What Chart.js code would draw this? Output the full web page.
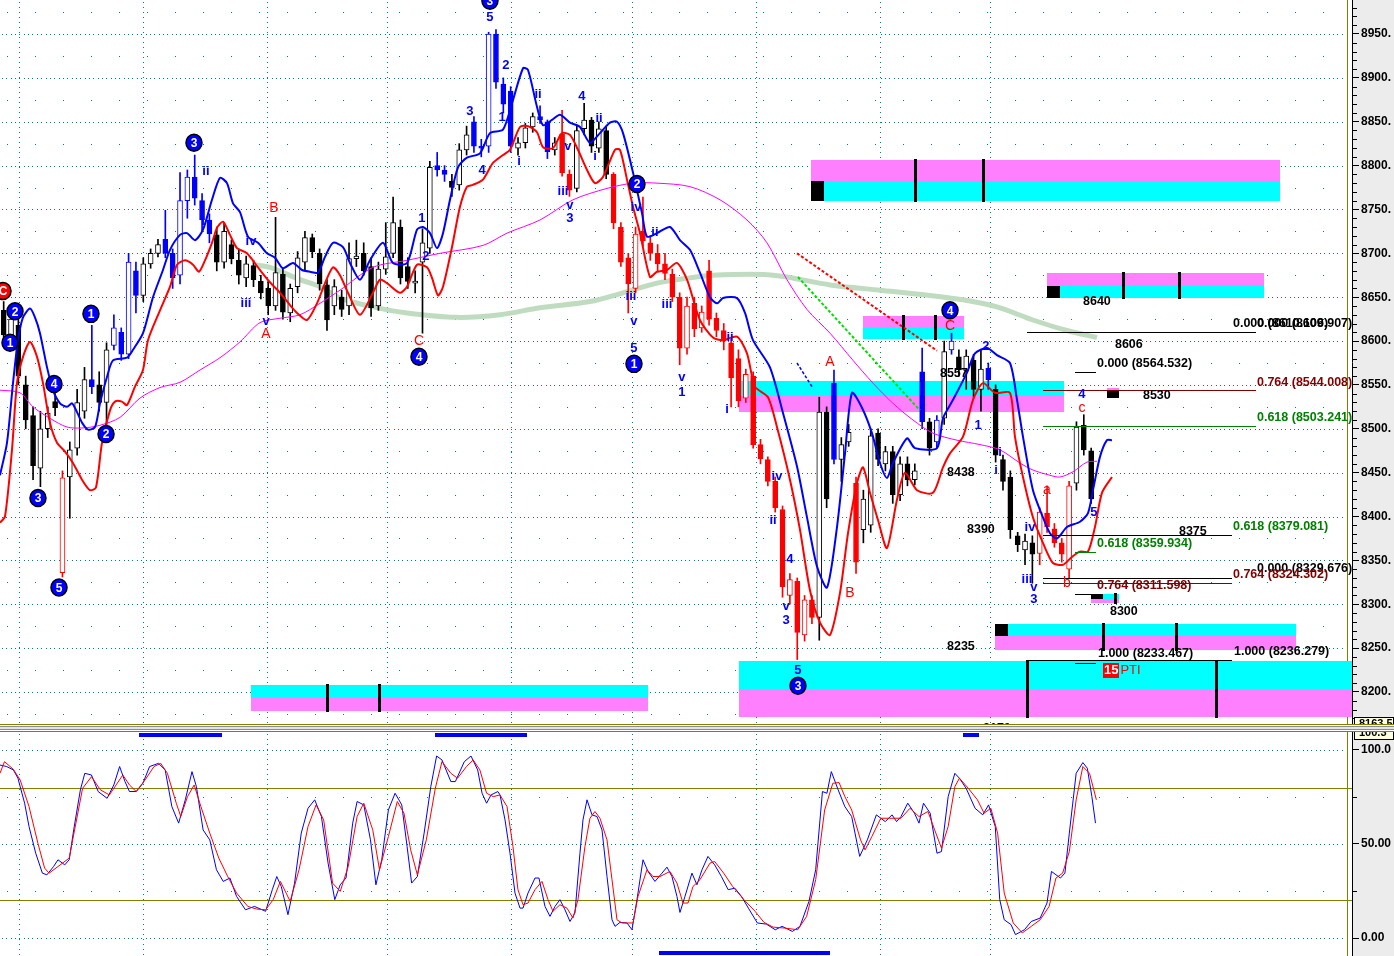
<!DOCTYPE html>
<html>
<head>
<meta charset="utf-8">
<title>Wave count chart</title>
<script src="https://cdn.jsdelivr.net/npm/chart.js@4.4.1/dist/chart.umd.min.js"></script>
<style>
  html, body { margin: 0; padding: 0; background: #fff; }
  #wrap { position: relative; width: 1394px; height: 956px; overflow: hidden; background: #fff; }
  #pricePane { position: absolute; left: 0; top: 0; }
  #split {
    position: absolute; left: 0; top: 724px; width: 1394px; height: 8px; box-sizing: border-box;
    border-top: 1px solid #808000; border-bottom: 1px solid #808000;
    background: linear-gradient(#ffffff 0, #ffffff 1px, #8c8c8c 1px, #8c8c8c 2px, #e4e4e4 2px, #e4e4e4 4px, #8c8c8c 4px, #8c8c8c 5px, #ffffff 5px);
  }
  #stochPane { position: absolute; left: 0; top: 732px; }
</style>
</head>
<body>
<div id="wrap">
  <canvas id="pricePane" width="1394" height="724"></canvas>
  <div id="split"></div>
  <canvas id="stochPane" width="1394" height="224"></canvas>
</div>
<script>
// bar index range shown on both panes (empty space on the right is future bars)
const barMin = -0.5, barMax = 183.5;

// candles, one bar at a time
const openP = [
  8635, 8607, 8618, 8550, 8515, 8455, 8500, 8531, 8336, 8445,
  8478, 8520, 8556, 8550, 8530, 8595, 8610, 8585, 8680, 8652,
  8688, 8700, 8716, 8700, 8675, 8760, 8787, 8760, 8738, 8721,
  8690, 8710, 8692, 8672, 8686, 8668, 8660, 8640, 8676, 8632,
  8662, 8690, 8718, 8700, 8664, 8640, 8650, 8640, 8694, 8700,
  8685, 8640, 8682, 8700, 8730, 8685, 8666, 8690, 8706, 8800,
  8795, 8782, 8778, 8818, 8850, 8822, 8822, 8950, 8893, 8885,
  8820, 8826, 8844, 8856, 8850, 8818, 8836, 8790, 8774, 8842,
  8852, 8820, 8840, 8790, 8730, 8695, 8660, 8725, 8712, 8700,
  8688, 8676, 8650, 8592, 8643, 8615, 8680, 8626, 8612, 8598,
  8580, 8535, 8560, 8482, 8465, 8440, 8408, 8310, 8326, 8265,
  8305, 8285, 8519, 8552, 8465, 8485, 8438, 8385, 8390, 8495,
  8460, 8474, 8425, 8460, 8442, 8565, 8508, 8485, 8512, 8590,
  8582, 8566, 8578, 8545, 8569, 8545, 8465, 8445, 8378, 8362,
  8370, 8358, 8404, 8386, 8370, 8340, 8438, 8504, 8475
];
const highP = [
  8645, 8640, 8630, 8560, 8525, 8520, 8525, 8540, 8452, 8485,
  8545, 8570, 8618, 8565, 8598, 8630, 8615, 8700, 8690, 8695,
  8705, 8716, 8749, 8705, 8792, 8795, 8812, 8768, 8745, 8730,
  8735, 8715, 8705, 8697, 8692, 8675, 8668, 8741, 8682, 8665,
  8702, 8725, 8722, 8705, 8670, 8670, 8658, 8712, 8715, 8712,
  8695, 8690, 8735, 8764, 8738, 8695, 8680, 8728, 8805, 8815,
  8800, 8790, 8825, 8845, 8856, 8830, 8952, 8955, 8900, 8890,
  8832, 8848, 8860, 8868, 8852, 8832, 8863, 8795, 8846, 8871,
  8855, 8850, 8845, 8792, 8735, 8700, 8730, 8764, 8720, 8710,
  8700, 8682, 8655, 8650, 8650, 8640, 8692, 8632, 8620, 8602,
  8590, 8568, 8565, 8488, 8468, 8445, 8412, 8335, 8330, 8310,
  8310, 8536, 8525, 8567, 8490, 8505, 8445, 8430, 8500, 8500,
  8480, 8480, 8468, 8468, 8460, 8592, 8512, 8515, 8600, 8609,
  8590, 8590, 8585, 8590, 8575, 8550, 8470, 8452, 8382, 8380,
  8378, 8410, 8435, 8392, 8375, 8440, 8508, 8516, 8478
];
const lowP = [
  8600, 8600, 8550, 8500, 8442, 8434, 8490, 8515, 8331, 8398,
  8470, 8512, 8540, 8520, 8500, 8590, 8578, 8580, 8632, 8645,
  8683, 8696, 8695, 8660, 8665, 8740, 8755, 8725, 8712, 8680,
  8683, 8688, 8665, 8662, 8662, 8648, 8630, 8635, 8625, 8622,
  8655, 8680, 8695, 8658, 8612, 8630, 8628, 8630, 8685, 8675,
  8628, 8635, 8676, 8695, 8665, 8660, 8655, 8609, 8700, 8788,
  8782, 8765, 8772, 8812, 8815, 8810, 8815, 8888, 8860, 8815,
  8812, 8820, 8838, 8848, 8808, 8812, 8788, 8765, 8770, 8835,
  8815, 8815, 8785, 8728, 8685, 8632, 8655, 8708, 8692, 8680,
  8670, 8645, 8573, 8585, 8605, 8610, 8618, 8605, 8590, 8525,
  8525, 8530, 8478, 8460, 8435, 8405, 8308, 8300, 8237, 8258,
  8278, 8259, 8410, 8460, 8440, 8480, 8335, 8370, 8382, 8458,
  8452, 8415, 8418, 8435, 8436, 8500, 8470, 8478, 8505, 8585,
  8560, 8545, 8535, 8520, 8545, 8462, 8430, 8375, 8360, 8345,
  8324, 8345, 8382, 8365, 8348, 8330, 8430, 8470, 8415
];
const closeP = [
  8607, 8625, 8560, 8510, 8458, 8500, 8518, 8524, 8444, 8476,
  8530, 8556, 8548, 8530, 8590, 8615, 8585, 8690, 8652, 8688,
  8700, 8710, 8700, 8672, 8760, 8787, 8763, 8738, 8722, 8690,
  8725, 8694, 8675, 8688, 8670, 8655, 8640, 8678, 8633, 8660,
  8695, 8718, 8702, 8665, 8624, 8662, 8636, 8694, 8697, 8680,
  8638, 8682, 8696, 8735, 8672, 8668, 8668, 8712, 8798, 8795,
  8790, 8775, 8818, 8835, 8822, 8820, 8950, 8895, 8870, 8822,
  8826, 8843, 8856, 8852, 8816, 8826, 8792, 8772, 8840, 8852,
  8822, 8842, 8790, 8735, 8690, 8665, 8722, 8714, 8700, 8688,
  8677, 8650, 8592, 8640, 8614, 8633, 8625, 8612, 8600, 8558,
  8532, 8562, 8482, 8466, 8440, 8410, 8320, 8328, 8268, 8305,
  8285, 8519, 8420, 8465, 8482, 8496, 8348, 8420, 8492, 8465,
  8474, 8425, 8460, 8442, 8452, 8508, 8478, 8510, 8588, 8600,
  8567, 8583, 8545, 8568, 8556, 8470, 8440, 8385, 8368, 8372,
  8357, 8405, 8388, 8370, 8357, 8435, 8502, 8476, 8420
];
// wave colouring of each candle: k plain, b blue (impulse up), r red (impulse down)
const candleWave = (
  "kkkkkkkkrk" + "kkbkkbbbbk" + "kkbbbbbbbk" + "kkkkkkkkkk" + "kkkkkkkkkk" +
  "kkkkkkkkkb" + "bkkkbbbbbb" + "kkkbbkrrkk" + "kkkrrrrrrr" + "rrrrrrrrrr" +
  "rrrrrrrrrr" + "rkkbkkrkkk" + "kkkkkbkbkb" + "kkkkbkkkkk" + "krrrrrkkk"
).split("");

// overlay lines as [bar, price]
const upperBand = [[-0.5,8447],[0.45,8484],[1.27,8552],[1.95,8601],[2.63,8627],[3.58,8637],[4.26,8627],[4.94,8609],[5.9,8570],[6.71,8544],[7.67,8529],[8.62,8525],[9.3,8529],[9.98,8519],[10.66,8507],[11.48,8499],[12.43,8502],[13.11,8529],[14.06,8559],[14.88,8578],[16.78,8581],[17.6,8590],[18.96,8609],[20.32,8650],[21.68,8681],[22.64,8704],[24.0,8721],[24.95,8723],[26.04,8715],[27.13,8727],[28.35,8761],[29.44,8786],[30.39,8780],[31.21,8757],[32.16,8747],[33.25,8719],[34.61,8712],[35.84,8700],[36.93,8695],[38.01,8683],[39.37,8689],[40.6,8681],[41.69,8679],[42.78,8678],[43.73,8696],[44.82,8712],[46.18,8707],[47.13,8689],[48.49,8670],[49.85,8692],[51.62,8712],[52.98,8689],[54.89,8689],[56.25,8727],[57.07,8730],[58.02,8723],[58.97,8706],[59.79,8723],[60.74,8761],[61.83,8798],[63.05,8809],[64.82,8814],[66.18,8837],[67.95,8841],[69.18,8871],[70.68,8911],[71.36,8909],[72.58,8867],[73.4,8846],[74.62,8852],[75.71,8858],[77.07,8849],[78.43,8844],[79.79,8826],[81.15,8837],[82.52,8849],[83.47,8850],[84.29,8837],[85.65,8792],[86.87,8746],[87.55,8719],[88.91,8723],[90.68,8730],[92.04,8715],[93.4,8704],[94.76,8678],[96.12,8650],[97.08,8643],[97.9,8649],[99.8,8649],[100.89,8632],[101.98,8601],[104.29,8570],[106.06,8518],[107.97,8457],[109.33,8399],[110.69,8343],[112.05,8319],[113.41,8388],[114.5,8472],[115.45,8541],[116.81,8524],[118.17,8495],[119.26,8461],[120.21,8444],[121.03,8461],[122.94,8489],[124.02,8478],[127.02,8478],[127.83,8512],[129.2,8533],[131.1,8564],[132.19,8586],[133.82,8592],[135.18,8584],[136.95,8575],[137.91,8533],[138.72,8491],[140.08,8430],[141.44,8399],[142.4,8381],[143.35,8375],[144.71,8388],[146.48,8394],[147.57,8404],[148.25,8430],[149.2,8468],[150.15,8487],[150.83,8487]];
const lowerBand = [[-0.5,8393],[0.18,8400],[1.13,8476],[1.81,8552],[2.63,8582],[3.58,8599],[4.54,8582],[5.35,8552],[6.3,8507],[7.26,8484],[8.35,8474],[9.43,8461],[10.66,8442],[11.75,8430],[12.56,8433],[13.38,8484],[14.47,8521],[15.15,8531],[16.1,8531],[16.78,8527],[17.87,8548],[18.96,8567],[19.64,8601],[21.27,8635],[22.64,8662],[23.59,8687],[24.68,8692],[25.77,8687],[26.58,8679],[27.4,8692],[28.35,8712],[29.03,8729],[29.85,8736],[30.8,8721],[31.75,8706],[33.11,8700],[34.88,8681],[36.24,8667],[37.61,8655],[38.97,8641],[39.92,8632],[41.28,8624],[42.64,8643],[43.73,8666],[44.82,8684],[45.77,8675],[46.86,8655],[48.49,8630],[50.26,8655],[51.21,8670],[52.17,8666],[53.94,8655],[54.89,8662],[56.25,8687],[57.61,8684],[58.29,8672],[59.11,8652],[59.79,8662],[61.01,8707],[62.1,8753],[63.05,8776],[63.87,8778],[65.23,8784],[66.59,8803],[67.95,8812],[68.91,8818],[70.27,8844],[71.36,8845],[72.58,8838],[73.4,8821],[74.76,8820],[75.98,8837],[77.07,8835],[78.16,8818],[79.39,8795],[80.47,8780],[81.56,8787],[83.2,8818],[83.88,8818],[84.83,8784],[85.65,8753],[86.6,8723],[87.96,8673],[88.91,8679],[90.27,8681],[91.63,8689],[93.0,8670],[94.76,8624],[96.53,8604],[97.9,8601],[99.8,8605],[101.16,8586],[102.25,8548],[104.02,8536],[105.24,8502],[107.01,8442],[108.37,8385],[109.73,8316],[111.1,8279],[112.46,8265],[113.82,8313],[114.91,8381],[116.13,8438],[116.95,8456],[117.9,8427],[118.99,8396],[120.21,8364],[121.57,8419],[122.66,8450],[124.3,8430],[126.47,8427],[127.83,8456],[128.79,8472],[130.56,8491],[131.92,8533],[133.28,8552],[134.91,8541],[136.95,8541],[137.63,8491],[138.72,8445],[140.08,8399],[141.44,8370],[142.8,8347],[144.17,8345],[145.39,8354],[146.48,8360],[147.57,8360],[148.52,8388],[149.47,8427],[150.83,8445]];
const fastAvg = [[-0.5,8544],[2.22,8541],[3.99,8525],[6.3,8512],[8.62,8502],[10.8,8501],[13.11,8504],[15.83,8513],[18.55,8535],[21.27,8547],[24.0,8553],[26.72,8567],[29.44,8581],[32.16,8599],[34.88,8621],[37.61,8626],[40.33,8630],[43.05,8643],[45.77,8658],[50.26,8684],[54.89,8692],[59.38,8700],[65.23,8709],[68.5,8723],[72.99,8738],[77.48,8761],[82.11,8774],[85.65,8780],[88.91,8780],[93.4,8776],[97.49,8761],[101.16,8738],[103.88,8712],[106.6,8670],[109.33,8636],[112.46,8609],[115.59,8578],[118.31,8552],[121.03,8529],[123.75,8510],[126.47,8495],[129.74,8487],[132.87,8482],[135.59,8476],[138.31,8461],[140.08,8453],[142.4,8447],[143.76,8445],[145.53,8451],[147.43,8462],[148.79,8463]];
const slowAvg = [[34.2,8687],[36.24,8684],[40.33,8670],[43.05,8662],[45.77,8649],[50.26,8639],[54.89,8632],[61.69,8627],[67.55,8630],[72.99,8638],[79.79,8645],[84.29,8655],[88.91,8666],[93.4,8672],[96.53,8675],[103.34,8676],[106.6,8673],[112.46,8664],[119.26,8658],[126.06,8652],[130.56,8647],[135.18,8639],[140.08,8624],[144.71,8612],[148.79,8604]];
const redCrossLine = [[107.97, 8700], [127.02, 8589]];
const greenCrossLine = [[108.1, 8673], [124.7, 8521]];
const blueCrossLine = [[107.97, 8575], [110.0, 8548]];

// oscillator pane, [bar, value]
const stochK = [[-0.5,92.0],[0.41,91.2],[1.32,89.4],[1.94,85],[2.85,71.7],[3.45,59.3],[4.36,45.1],[5.27,34.5],[5.88,33.6],[6.79,38],[7.39,41.6],[8.31,38.9],[8.92,41.6],[9.53,57.5],[10.44,78.8],[11.04,87.6],[11.95,86.7],[12.86,77.9],[14.08,74.3],[14.99,81.4],[15.78,91.2],[16.51,83.2],[17.12,77.9],[18.04,77.9],[18.95,82.3],[19.86,91.2],[21.07,92.9],[21.98,89.4],[22.89,69.9],[23.81,61.1],[24.72,73.5],[25.63,88.5],[26.23,80.5],[27.14,57.5],[28.05,52.2],[28.96,36.3],[29.88,30.1],[30.79,31.9],[31.7,22.1],[32.91,15],[34.13,16.8],[35.65,14.2],[36.56,25.7],[37.17,32.7],[37.78,27.4],[38.69,12.4],[39.59,29.2],[40.5,55.8],[41.42,69],[42.33,73.5],[43.24,64.6],[44.15,39.8],[45.06,20.4],[45.8,28.3],[46.59,31.9],[47.5,61.1],[48.1,72.6],[49.01,70.8],[49.92,52.2],[50.66,28.3],[51.45,41.6],[52.36,68.1],[53.27,77],[54.18,70.8],[54.9,48.7],[55.52,29.2],[56.3,32.7],[57.22,55.8],[58.13,80.5],[58.92,96.8],[59.65,94.7],[60.86,83.2],[61.47,83.2],[62.69,93.8],[63.6,96.8],[64.51,89.4],[65.11,77],[65.72,71.7],[66.33,76.1],[67.25,77.9],[67.55,76.1],[68.23,62.8],[68.91,45.1],[69.59,23.9],[70.27,15.9],[70.68,15.9],[71.36,23.9],[72.31,31.9],[72.85,31.9],[73.67,16.8],[74.35,11.5],[75.03,16.8],[75.71,20.4],[76.39,15],[77.07,8.8],[77.75,13.3],[78.43,45.1],[78.84,62.8],[79.39,73.5],[80.07,65.5],[80.75,64.6],[81.43,57.5],[82.11,32.7],[82.79,9.7],[83.2,6.2],[83.88,8.3],[84.83,8],[85.51,4.4],[86.19,20.4],[87.01,41.6],[87.69,35.4],[88.64,30.1],[89.59,34.5],[90.27,37.7],[90.95,32.7],[91.63,22.1],[92.04,13.6],[92.72,22.1],[93.67,34.5],[94.35,28.3],[95.04,36.3],[95.85,43.4],[96.76,38.9],[97.68,32.7],[98.6,25.7],[99.51,26.5],[100.42,22.1],[101.35,15.9],[102.57,8],[103.79,7.4],[105.01,4.4],[105.94,6.2],[107.34,3.5],[108.37,6.2],[109.6,19.5],[110.51,36.3],[111.43,77.9],[112.04,77],[112.64,88.5],[113.57,78.8],[114.48,69.9],[115.41,64.6],[116.5,43.4],[117.54,52.2],[118.77,65.5],[119.98,61.9],[120.9,65.5],[121.52,61.9],[122.12,64.6],[123.04,71.7],[123.95,66.4],[124.57,61.1],[125.18,71.7],[126.09,66.4],[127.02,45.1],[127.63,46],[128.54,75.2],[129.45,87.6],[130.07,85],[130.99,79.6],[132.2,69],[133.25,65.5],[134.04,70.8],[134.95,59.3],[135.56,20.4],[136.17,9.7],[137.1,7.1],[137.7,1.8],[138.92,4.4],[139.85,8.8],[141.06,10.6],[141.99,18.6],[142.6,35.4],[143.82,31.9],[144.43,34.5],[145.03,55.8],[145.96,87.6],[146.87,93.3],[147.48,90.3],[148.1,75.2],[148.59,61.1]];
const stochD = [[-0.5,87.6],[0.11,93.8],[1.32,89.7],[2.24,84.1],[3.45,69.9],[4.66,50.4],[5.57,37.2],[6.18,34.5],[7.39,38],[8.92,42.5],[9.83,61.1],[10.74,79.6],[11.95,85.8],[13.16,78.8],[14.39,76.1],[15.3,81.4],[16.21,86.7],[17.12,81.4],[18.04,77.9],[19.25,84.1],[20.46,91.2],[21.37,92.9],[22.28,87.6],[23.49,71.7],[24.1,64.6],[25.02,75.2],[25.93,81.4],[26.84,69.9],[28.05,55.8],[29.28,42.5],[30.49,32.7],[31.7,23.9],[33.22,16.8],[34.43,15.4],[35.65,15],[36.68,20.4],[37.66,30.1],[38.99,19.5],[40.2,36.3],[41.42,59.3],[42.52,70.8],[43.55,62.8],[44.76,29.2],[45.8,24.8],[46.89,38],[48.1,64.6],[49.01,71.7],[50.23,57.5],[51.15,36.3],[52.36,54],[53.57,72.6],[54.48,66.4],[55.39,46.9],[56.3,33.6],[57.52,52.2],[58.74,79.6],[59.65,93.8],[60.86,87.6],[61.77,85],[62.99,91.2],[63.9,94.7],[64.81,89.4],[65.72,77],[66.63,75.2],[67.55,76.1],[68.5,69.9],[69.31,48.7],[69.99,25.7],[70.68,17.7],[71.36,18.6],[72.31,25.7],[73.26,30.1],[74.08,20.4],[74.76,14.2],[75.71,17.7],[76.66,15.9],[77.48,10.6],[78.16,20.4],[79.11,48.7],[79.79,63.7],[80.47,67.3],[81.15,63.7],[82.11,52.2],[82.79,31],[83.47,9.7],[84.15,8],[84.96,8],[85.65,8],[86.33,22.1],[87.55,36.3],[88.37,32.7],[89.32,32.7],[90.68,35.4],[91.63,29.2],[92.45,18.6],[93.13,18.6],[93.81,27.4],[94.76,31],[96.12,39.8],[96.76,40.7],[97.99,34.5],[99.21,27.4],[100.74,20.4],[102.26,14.2],[103.48,8.3],[104.71,5.8],[106.23,5.3],[108.07,4.4],[109.28,11.5],[110.51,31],[111.73,68.1],[112.84,82.3],[113.69,82.7],[114.48,75.2],[115.41,68.1],[116.62,52.2],[117.23,46.9],[118.16,54],[119.37,63.7],[120.59,63.7],[122.12,63.7],[123.34,69],[124.57,64.6],[125.79,67.3],[126.7,57.5],[127.63,47.8],[128.54,59.3],[129.45,80.5],[130.07,85],[131.29,79.6],[132.52,73.5],[133.43,66.4],[134.35,69],[135.27,55.8],[136.17,23.9],[137.4,8],[138.62,2.7],[139.85,6.2],[141.06,9.7],[142.28,16.8],[143.21,31.9],[144.12,34.5],[145.03,46],[145.96,73.5],[146.87,91.2],[147.78,87.6],[148.71,73.5]];

const priceTicks = [8200, 8250, 8300, 8350, 8400, 8450, 8500, 8550, 8600, 8650, 8700, 8750, 8800, 8850, 8900, 8950];
const stochTicks = [0, 50, 100];
const stochTickText = ["0.00", "50.00", "100.0"];
const sessionBreaks = [2.11, 18.95, 35.77, 52.23, 69.07, 85.47, 102.4, 119.2, 134.3];
const signalTop = [[18.4, 29.7], [58.7, 71.2], [130.6, 132.7]];
const signalBottom = [[89.2, 112.5]];

// target zones: [from bar, to bar, top, middle, bottom, upper half colour, marker bars, black block end]
const zones = [
  [109.87, 173.7, 8806.4, 8782.5, 8759.7, "m", [124.02, 133.28], 111.64],
  [141.99, 171.52, 8677.6, 8662.8, 8649.1, "m", [152.33, 159.95], 143.75],
  [116.95, 130.69, 8628.6, 8615.0, 8602.4, "m", [122.39, 126.74], null],
  [100.07, 144.3, 8554.5, 8537.4, 8519.2, "c", [], null],
  [134.9, 175.9, 8277.6, 8263.9, 8247.9, "c", [149.6, 159.5], 136.7],
  [100.07, 183.5, 8235.4, 8202.4, 8171.6, "c", [139.26, 164.98], null],
  [33.66, 87.69, 8208.1, 8193.2, 8178.4, "c", [44.0, 51.08], null],
  [147.97, 151.78, 8311.8, 8306.1, 8301.5, "c", [151.24], 149.6],
  [150.15, 151.78, 8546.5, 8543.1, 8535.1, "m", [], 151.78]
];

// retracement lines: [from bar, to bar, price, colour]
const fibLines = [
  [139.26, 170.43, 8610.1, "#000000"],
  [141.44, 170.43, 8544.0, "#800000"],
  [141.44, 170.43, 8503.2, "#008000"],
  [145.8, 148.65, 8564.5, "#000000"],
  [141.44, 167.2, 8379.1, "#000000"],
  [145.8, 148.65, 8359.9, "#008000"],
  [141.44, 167.2, 8329.7, "#000000"],
  [141.44, 167.2, 8324.3, "#800000"],
  [145.8, 148.65, 8311.6, "#000000"],
  [139.26, 167.2, 8236.3, "#000000"],
  [145.8, 148.65, 8233.5, "#000000"]
];

// text notes: [bar at left edge, price, text, kind]
const priceNotes = [
  [167.3, 8619.5, "0.000 (8610.106)", "k"],
  [170.57, 8619.5, "0.000 (8609.907)", "k"],
  [148.79, 8573.9, "0.000 (8564.532)", "k"],
  [151.24, 8595.6, "8606", "k"],
  [146.89, 8644.6, "8640", "k"],
  [170.57, 8552.2, "0.764 (8544.008)", "d"],
  [155.05, 8537.4, "8530", "k"],
  [170.57, 8512.3, "0.618 (8503.241)", "g"],
  [128.38, 8449.7, "8438", "k"],
  [131.1, 8384.7, "8390", "k"],
  [159.95, 8382.4, "8375", "k"],
  [167.3, 8388.1, "0.618 (8379.081)", "g"],
  [148.79, 8368.8, "0.618 (8359.934)", "g"],
  [170.57, 8340.3, "0.000 (8329.676)", "k"],
  [167.3, 8333.4, "0.764 (8324.302)", "d"],
  [148.79, 8320.9, "0.764 (8311.598)", "d"],
  [150.56, 8291.3, "8300", "k"],
  [128.38, 8251.4, "8235", "k"],
  [148.93, 8243.4, "1.000 (8233.467)", "k"],
  [167.44, 8245.7, "1.000 (8236.279)", "k"],
  [133.28, 8157.9, "8170", "k"],
  [127.42, 8562.5, "8557", "k"],
  [149.61, 8225.2, "15|PTI", "pti"]
];

// wave count marks: [bar, price, text, kind]
const waveMarks = [
  [-0.09, 8657, "C", "rc"], [0.86, 8598, "1", "bc"], [1.54, 8634, "2", "bc"], [4.67, 8421, "3", "bc"],
  [6.85, 8551, "4", "bc"], [7.53, 8319, "5", "bc"], [11.88, 8631, "1", "bc"], [13.93, 8494, "2", "bc"],
  [25.9, 8826, "3", "bc"], [56.52, 8582, "4", "bc"], [66.18, 8988, "3", "bc"], [86.19, 8779, "2", "bc"],
  [85.78, 8574, "1", "bc"], [128.79, 8635, "4", "bc"], [108.1, 8207, "3", "bc"],
  [27.53, 8793, "ii", "w"], [27.13, 8736, "i", "w"], [33.66, 8714, "iv", "w"], [32.98, 8643, "iii", "w"],
  [35.7, 8622, "v", "w"], [56.93, 8740, "1", "w"], [57.47, 8697, "2", "w"], [63.46, 8862, "3", "w"],
  [65.1, 8795, "4", "w"], [66.18, 8969, "5", "w"], [68.36, 8914, "2", "w"], [67.82, 8855, "1", "w"],
  [72.72, 8881, "ii", "w"], [70.13, 8805, "i", "w"], [78.7, 8879, "4", "w"], [81.02, 8854, "ii", "w"],
  [80.47, 8811, "i", "w"], [76.8, 8822, "v", "w"], [76.12, 8770, "iii", "w"], [77.07, 8755, "v", "w"],
  [77.07, 8740, "3", "w"], [85.78, 8622, "v", "w"], [85.78, 8592, "5", "w"], [86.05, 8752, "iv", "w"],
  [88.64, 8724, "ii", "w"], [85.37, 8651, "iii", "w"], [90.27, 8642, "iii", "w"], [92.31, 8558, "v", "w"],
  [92.31, 8542, "1", "w"], [98.85, 8604, "ii", "w"], [98.44, 8522, "i", "w"], [105.24, 8446, "iv", "w"],
  [104.7, 8396, "ii", "w"], [107.01, 8351, "4", "w"], [106.47, 8298, "v", "w"], [106.47, 8282, "3", "w"],
  [108.1, 8225, "5", "w"], [132.6, 8504, "1", "w"], [133.68, 8594, "2", "w"], [135.59, 8473, "i", "w"],
  [135.05, 8453, "i", "w"], [139.67, 8388, "iv", "w"], [139.26, 8328, "iii", "w"], [140.22, 8319, "v", "w"],
  [140.22, 8305, "3", "w"], [146.75, 8539, "4", "w"], [148.38, 8405, "5", "w"],
  [36.79, 8751, "B", "r"], [35.7, 8608, "A", "r"], [56.52, 8600, "C", "r"], [112.46, 8576, "A", "r"],
  [115.18, 8313, "B", "r"], [128.79, 8617, "C", "r"], [141.99, 8430, "a", "r"], [144.71, 8324, "b", "r"],
  [146.75, 8524, "c", "r"]
];

const pairs = rows => rows.map(r => ({ x: r[0], y: r[1] }));
const waveInk = { k: "#000000", b: "#0000ff", r: "#ff0000" };
const sans = "'Liberation Sans', Arial, sans-serif";

Chart.defaults.font.family = sans;
Chart.defaults.animation = false;

const paneBackdrop = {
  id: "paneBackdrop",
  beforeDraw(chart) {
    const { ctx, chartArea: a, width, height } = chart;
    ctx.save();
    ctx.fillStyle = "#ececec";
    ctx.fillRect(a.right, 0, width - a.right, height);
    ctx.fillStyle = "#ffffff";
    ctx.fillRect(a.left, a.top, a.right - a.left, a.bottom - a.top);
    ctx.restore();
  }
};

const dotGrid = {
  id: "dotGrid",
  beforeDatasetsDraw(chart, args, opts) {
    const { ctx, chartArea: a, scales: { x, y } } = chart;
    ctx.save();
    ctx.fillStyle = "#008080";
    opts.rows.forEach(v => {
      const py = Math.round(y.getPixelForValue(v));
      for (let px = a.left + 2; px < a.right - 6; px += 4.35) ctx.fillRect(Math.round(px), py, 1, 1);
    });
    opts.sparse.forEach(v => {
      const py = Math.round(y.getPixelForValue(v));
      for (let px = a.left + 7; px < a.right - 6; px += 28) ctx.fillRect(Math.round(px), py, 1, 1);
    });
    sessionBreaks.forEach(b => {
      const px = Math.round(x.getPixelForValue(b));
      for (let py = a.top + 2; py < a.bottom; py += 5) ctx.fillRect(px, Math.round(py), 1, 1);
    });
    ctx.fillStyle = "#808000";
    opts.olive.forEach(v => {
      ctx.fillRect(a.left, Math.round(y.getPixelForValue(v)), a.right - a.left, 1);
    });
    ctx.fillRect(a.right - 5, a.top, 1, a.bottom - a.top);
    ctx.restore();
  }
};

const zoneLayer = {
  id: "zoneLayer",
  beforeDatasetsDraw(chart) {
    const { ctx, scales: { x, y } } = chart;
    ctx.save();
    zones.forEach(([x1, x2, top, mid, bottom, upper, bars, block]) => {
      const l = Math.round(x.getPixelForValue(x1)), r = Math.round(x.getPixelForValue(x2));
      const t = Math.round(y.getPixelForValue(top)), m = Math.round(y.getPixelForValue(mid));
      const b = Math.round(y.getPixelForValue(bottom));
      ctx.fillStyle = upper === "m" ? "#ff80ff" : "#00ffff";
      ctx.fillRect(l, t, r - l, m - t);
      ctx.fillStyle = upper === "m" ? "#00ffff" : "#ff80ff";
      ctx.fillRect(l, m, r - l, b - m);
      ctx.fillStyle = "#000000";
      if (block !== null) {
        const br = Math.round(x.getPixelForValue(block));
        if (upper === "m") ctx.fillRect(l, m, br - l, b - m);
        else ctx.fillRect(l, t, br - l, m - t);
      }
      bars.forEach(bx => {
        const px = Math.round(x.getPixelForValue(bx));
        ctx.fillRect(px - 1, t - 1, 3, b - t + 2);
      });
    });
    ctx.restore();
  }
};

const noteLayer = {
  id: "noteLayer",
  afterDatasetsDraw(chart) {
    const { ctx, scales: { x, y } } = chart;
    ctx.save();
    fibLines.forEach(([x1, x2, v, col]) => {
      const l = Math.round(x.getPixelForValue(x1)), r = Math.round(x.getPixelForValue(x2));
      ctx.fillStyle = col;
      ctx.fillRect(l, Math.round(y.getPixelForValue(v)), r - l, 1);
    });

    ctx.textBaseline = "middle";
    const ink = { k: "#000000", g: "#008000", d: "#800000" };
    priceNotes.forEach(([bx, v, text, kind]) => {
      const px = x.getPixelForValue(bx), py = y.getPixelForValue(v);
      ctx.textAlign = "left";
      if (kind === "pti") {
        const [num, tag] = text.split("|");
        ctx.font = "bold 13px " + sans;
        const w = ctx.measureText(num).width;
        ctx.fillStyle = "#ff0000";
        ctx.fillRect(Math.round(px), Math.round(py) - 7, Math.round(w) + 2, 15);
        ctx.fillStyle = "#ffffff";
        ctx.fillText(num, px + 1, py + 1);
        ctx.fillStyle = "#ff0000";
        ctx.font = "13px " + sans;
        ctx.fillText(tag, px + w + 3, py + 1);
        return;
      }
      ctx.font = "bold 12.5px " + sans;
      ctx.fillStyle = ink[kind];
      ctx.fillText(text, px, py);
    });

    waveMarks.forEach(([bx, v, text, kind]) => {
      const px = x.getPixelForValue(bx), py = y.getPixelForValue(v);
      ctx.textAlign = "center";
      if (kind === "bc" || kind === "rc") {
        ctx.beginPath();
        ctx.ellipse(px, py, 8, 8.5, 0, 0, Math.PI * 2);
        ctx.fillStyle = kind === "bc" ? "#0000ff" : "#ff0000";
        ctx.fill();
        ctx.lineWidth = 1.5;
        ctx.strokeStyle = "#000000";
        ctx.stroke();
        ctx.fillStyle = "#ffffff";
        ctx.font = "bold 12px " + sans;
        ctx.fillText(text, px, py + 1);
      } else if (kind === "w") {
        ctx.fillStyle = "#0000ff";
        ctx.font = "bold 13px " + sans;
        ctx.fillText(text, px, py);
      } else {
        ctx.fillStyle = "#ff0000";
        ctx.font = "14px " + sans;
        ctx.fillText(text, px, py);
      }
    });
    ctx.restore();
  }
};

const axisExtras = {
  id: "axisExtras",
  afterDraw(chart, args, opts) {
    const { ctx, chartArea: a, scales: { y }, width } = chart;
    ctx.save();
    ctx.fillStyle = "#000000";
    for (let v = Math.ceil(y.min / opts.minorStep) * opts.minorStep; v <= y.max; v += opts.minorStep) {
      if (opts.majors.includes(v)) continue;
      ctx.fillRect(a.right + 1, Math.round(y.getPixelForValue(v)), 4, 1);
    }
    const top = opts.tagAtTop ? -6 : Math.round(y.getPixelForValue(opts.tagValue)) - 7;
    ctx.fillStyle = "#ffffe1";
    ctx.fillRect(a.right + 2, top, width - a.right - 2, 14);
    ctx.strokeStyle = "#000000";
    ctx.lineWidth = 1;
    ctx.strokeRect(a.right + 2.5, top + 0.5, width - a.right - 3, 13);
    ctx.fillStyle = "#000000";
    ctx.font = "bold 11px " + sans;
    ctx.textBaseline = "middle";
    ctx.textAlign = "left";
    ctx.fillText(opts.tagText, a.right + 7, top + 7);
    ctx.restore();
  }
};

const signalStrips = {
  id: "signalStrips",
  afterDatasetsDraw(chart) {
    const { ctx, chartArea: a, scales: { x } } = chart;
    ctx.save();
    ctx.fillStyle = "#0000ff";
    signalTop.forEach(([b1, b2]) => {
      const l = Math.round(x.getPixelForValue(b1)), r = Math.round(x.getPixelForValue(b2));
      ctx.fillRect(l, a.top + 1, r - l, 4);
    });
    signalBottom.forEach(([b1, b2]) => {
      const l = Math.round(x.getPixelForValue(b1)), r = Math.round(x.getPixelForValue(b2));
      ctx.fillRect(l, a.bottom - 5, r - l, 4);
    });
    ctx.restore();
  }
};

const rightAxis = (min, max, ticks, label) => ({
  position: "right",
  min: min,
  max: max,
  afterBuildTicks: s => { s.ticks = ticks.map(v => ({ value: v })); },
  afterFit: s => { s.width = 42; s.paddingTop = 0; s.paddingBottom = 0; },
  grid: { drawOnChartArea: false, drawTicks: true, tickLength: 7, tickColor: "#000000", tickWidth: 1, color: "#000000" },
  border: { display: true, color: "#000000", width: 1 },
  ticks: {
    autoSkip: false, padding: 2, color: "#000000",
    font: { family: sans, size: 12, weight: "bold" },
    callback: label
  }
});

const barAxis = { type: "linear", min: barMin, max: barMax, offset: false, display: false, grid: { offset: false } };

new Chart(document.getElementById("pricePane"), {
  type: "bar",
  data: {
    datasets: [
      {
        type: "line", data: pairs(slowAvg), borderColor: "#c0dcc0", borderWidth: 5,
        pointRadius: 0, tension: 0.3, order: 5
      },
      {
        type: "bar",
        data: lowP.map((l, i) => ({ x: i, y: [l, highP[i]] })),
        backgroundColor: c => waveInk[candleWave[c.dataIndex || 0]],
        borderWidth: 0, barThickness: 1, grouped: false, order: 4
      },
      {
        type: "bar",
        data: openP.map((o, i) => ({ x: i, y: [Math.min(o, closeP[i]), Math.max(o, closeP[i])] })),
        backgroundColor: c => {
          const i = c.dataIndex || 0;
          return closeP[i] >= openP[i] ? "#ffffff" : waveInk[candleWave[i]];
        },
        borderColor: c => waveInk[candleWave[c.dataIndex || 0]],
        borderWidth: 1, borderSkipped: false, barThickness: 5, grouped: false, minBarLength: 2, order: 3
      },
      {
        type: "line", data: pairs(fastAvg), borderColor: "#ff00ff", borderWidth: 1,
        pointRadius: 0, tension: 0.3, order: 2
      },
      {
        type: "line", data: pairs(lowerBand), borderColor: "#ff0000", borderWidth: 2,
        pointRadius: 0, tension: 0.25, order: 1
      },
      {
        type: "line", data: pairs(upperBand), borderColor: "#0000ff", borderWidth: 2,
        pointRadius: 0, tension: 0.25, order: 1
      },
      {
        type: "line", data: pairs(redCrossLine), borderColor: "#ff0000", borderWidth: 2,
        borderDash: [3, 2], pointRadius: 0, order: 0
      },
      {
        type: "line", data: pairs(greenCrossLine), borderColor: "#00e000", borderWidth: 2,
        borderDash: [3, 2], pointRadius: 0, order: 0
      },
      {
        type: "line", data: pairs(blueCrossLine), borderColor: "#0000ff", borderWidth: 1.5,
        borderDash: [3, 2], pointRadius: 0, order: 0
      }
    ]
  },
  options: {
    responsive: false,
    devicePixelRatio: 1,
    animation: false,
    layout: { padding: 0 },
    plugins: {
      legend: { display: false },
      tooltip: { enabled: false },
      dotGrid: { rows: priceTicks, sparse: priceTicks.map(v => v - 25).concat([8975]), olive: [] },
      axisExtras: { minorStep: 10, majors: priceTicks, tagValue: 8163.5, tagText: "8163.5", tagAtTop: false }
    },
    scales: {
      x: barAxis,
      y: rightAxis(8163.5, 8988.75, priceTicks, v => v + ".")
    }
  },
  plugins: [paneBackdrop, dotGrid, zoneLayer, noteLayer, axisExtras]
});

new Chart(document.getElementById("stochPane"), {
  type: "line",
  data: {
    datasets: [
      { data: pairs(stochK), borderColor: "#0000ff", borderWidth: 1, pointRadius: 0, tension: 0, order: 1 },
      { data: pairs(stochD), borderColor: "#ff0000", borderWidth: 1, pointRadius: 0, tension: 0, order: 0 }
    ]
  },
  options: {
    responsive: false,
    devicePixelRatio: 1,
    animation: false,
    layout: { padding: 0 },
    plugins: {
      legend: { display: false },
      tooltip: { enabled: false },
      dotGrid: { rows: stochTicks, sparse: [25, 75], olive: [20, 80] },
      axisExtras: { minorStep: 25, majors: stochTicks, tagValue: 100.3, tagText: "100.3", tagAtTop: true }
    },
    scales: {
      x: barAxis,
      y: rightAxis(-9.57, 109.57, stochTicks, v => stochTickText[stochTicks.indexOf(v)])
    }
  },
  plugins: [paneBackdrop, dotGrid, signalStrips, axisExtras]
});
</script>
</body>
</html>
